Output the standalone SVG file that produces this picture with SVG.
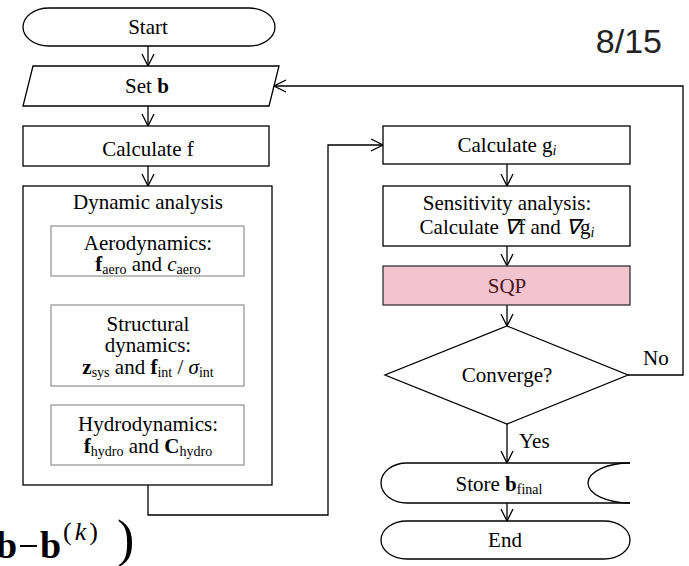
<svg xmlns="http://www.w3.org/2000/svg" width="689" height="566" viewBox="0 0 689 566">
<defs>
<style>
.t{font-family:"Liberation Serif","Times New Roman",serif;font-size:21px;fill:#000;text-anchor:middle}
.sub{font-size:14px}
.b{font-weight:bold}
.i{font-style:italic}
.box{fill:#fff;stroke:#000;stroke-width:1.3}
.gbox{fill:#fff;stroke:#999;stroke-width:1.3}
.c{fill:none;stroke:#000;stroke-width:1.3}
.gc{fill:none;stroke:#999;stroke-width:1.3}
</style>
<marker id="a" viewBox="0 0 14 14" refX="13" refY="7" markerWidth="14" markerHeight="14" markerUnits="userSpaceOnUse" orient="auto">
<path d="M1,1 L13,7 L1,13" fill="none" stroke="#000" stroke-width="1.3"/>
</marker>
<marker id="ag" viewBox="0 0 14 14" refX="13" refY="7" markerWidth="14" markerHeight="14" markerUnits="userSpaceOnUse" orient="auto">
<path d="M1,1 L13,7 L1,13" fill="none" stroke="#999" stroke-width="1.3"/>
</marker>
</defs>
<rect width="689" height="566" fill="#fff"/>

<g id="connectors">
<line class="c" x1="148" y1="46" x2="148" y2="66" marker-end="url(#a)"/>
<line class="c" x1="148" y1="106" x2="148" y2="126" marker-end="url(#a)"/>
<line class="c" x1="148" y1="166" x2="148" y2="186" marker-end="url(#a)"/>
<line class="gc" x1="148" y1="276" x2="148" y2="305" marker-end="url(#ag)"/>
<line class="gc" x1="148" y1="405" x2="148" y2="386" marker-end="url(#ag)"/>
<polyline class="c" points="148,485 148,515 328,515 328,145 383,145" marker-end="url(#a)"/>
<line class="c" x1="507" y1="164" x2="507" y2="186" marker-end="url(#a)"/>
<line class="c" x1="507" y1="246" x2="507" y2="266" marker-end="url(#a)"/>
<line class="c" x1="507" y1="305" x2="507" y2="326" marker-end="url(#a)"/>
<polyline class="c" points="628,375 683,375 683,86 274,86" marker-end="url(#a)"/>
<line class="c" x1="507" y1="424" x2="507" y2="463" marker-end="url(#a)"/>
<line class="c" x1="507" y1="503" x2="507" y2="521" marker-end="url(#a)"/>
<text class="t" x="643" y="365" style="text-anchor:start">No</text>
<text class="t" x="519" y="448" style="text-anchor:start">Yes</text>
</g>

<g id="start">
<path class="box" d="M49,8 H249 A26,19 0 0 1 249,46 H49 A26,19 0 0 1 49,8 Z"/>
<text class="t" x="148" y="34">Start</text>
</g>

<g id="setb">
<polygon class="box" points="33,66 279,66 269,106 23,106"/>
<text class="t" x="147" y="93">Set <tspan class="b">b</tspan></text>
</g>

<g id="calcf">
<rect class="box" x="23" y="126" width="246" height="40"/>
<text class="t" x="148" y="156">Calculate  f</text>
</g>

<g id="dynamic">
<rect class="box" x="23" y="186" width="249" height="299"/>
<text class="t" x="148" y="209">Dynamic  analysis</text>
</g>

<g id="aero">
<rect class="gbox" x="51" y="226" width="193" height="50"/>
<text class="t" x="148" y="250">Aerodynamics:</text>
<text class="t" x="148" y="271"><tspan class="b">f</tspan><tspan class="sub" dy="3">aero</tspan><tspan dy="-3"> and </tspan><tspan class="i">c</tspan><tspan class="sub" dy="3">aero</tspan></text>
</g>

<g id="struct">
<rect class="gbox" x="51" y="305" width="193" height="81"/>
<text class="t" x="148" y="331">Structural</text>
<text class="t" x="148" y="352">dynamics:</text>
<text class="t" x="148" y="374"><tspan class="b">z</tspan><tspan class="sub" dy="3">sys</tspan><tspan dy="-3"> and </tspan><tspan class="b">f</tspan><tspan class="sub" dy="3">int</tspan><tspan dy="-3"> / </tspan><tspan class="i">σ</tspan><tspan class="sub" dy="3">int</tspan></text>
</g>

<g id="hydro">
<rect class="gbox" x="51" y="405" width="193" height="60"/>
<text class="t" x="148" y="431">Hydrodynamics:</text>
<text class="t" x="148" y="453"><tspan class="b">f</tspan><tspan class="sub" dy="3">hydro</tspan><tspan dy="-3"> and </tspan><tspan class="b">C</tspan><tspan class="sub" dy="3">hydro</tspan></text>
</g>

<g id="calcg">
<rect class="box" x="383" y="126" width="247" height="38"/>
<text class="t" x="507" y="152">Calculate  g<tspan class="sub i" dy="3">i</tspan></text>
</g>

<g id="sens">
<rect class="box" x="383" y="186" width="247" height="60"/>
<text class="t" x="507" y="210">Sensitivity  analysis:</text>
<text class="t" x="507" y="234">Calculate  <tspan class="i">∇</tspan>f and <tspan class="i">∇</tspan>g<tspan class="sub i" dy="3">i</tspan></text>
</g>

<g id="sqp">
<rect x="383" y="266" width="247" height="39" fill="#f2c4cf" stroke="#333" stroke-width="1.3"/>
<text class="t" x="507" y="293" style="fill:#4a1420">SQP</text>
</g>

<g id="converge">
<polygon class="box" points="507,326 628,375 507,424 385,375"/>
<text class="t" x="507" y="382">Converge?</text>
</g>

<g id="store">
<path fill="#fff" stroke="none" d="M630,463 H407 A26,20 0 0 0 407,503 H630 Z"/>
<path class="c" d="M630,463 H407 A26,20 0 0 0 407,503 H630"/>
<path class="c" d="M630,463 A42,20 0 0 0 630,503"/>
<text class="t" x="499" y="491">Store <tspan class="b">b</tspan><tspan class="sub" dy="3">final</tspan></text>
</g>

<g id="end">
<path class="box" d="M407,521 H604 A26,19 0 0 1 604,559 H407 A26,19 0 0 1 407,521 Z"/>
<text class="t" x="505" y="547">End</text>
</g>

<text x="662" y="53" style="font-family:'Liberation Sans',Arial,sans-serif;font-size:34px;fill:#222;text-anchor:end">8/15</text>

<g style="font-family:'Liberation Serif','Times New Roman',serif;fill:#000">
<text x="-4" y="558" style="font-size:38px;font-weight:bold">b</text>
<line x1="20" y1="546" x2="37" y2="546" stroke="#000" stroke-width="2"/>
<text x="40" y="558" style="font-size:38px;font-weight:bold">b</text>
<text x="63" y="540" style="font-size:26px">(<tspan font-style="italic" dx="3">k</tspan><tspan dx="3">)</tspan></text>
<text x="117" y="556" style="font-size:52px">)</text>
</g>
</svg>
